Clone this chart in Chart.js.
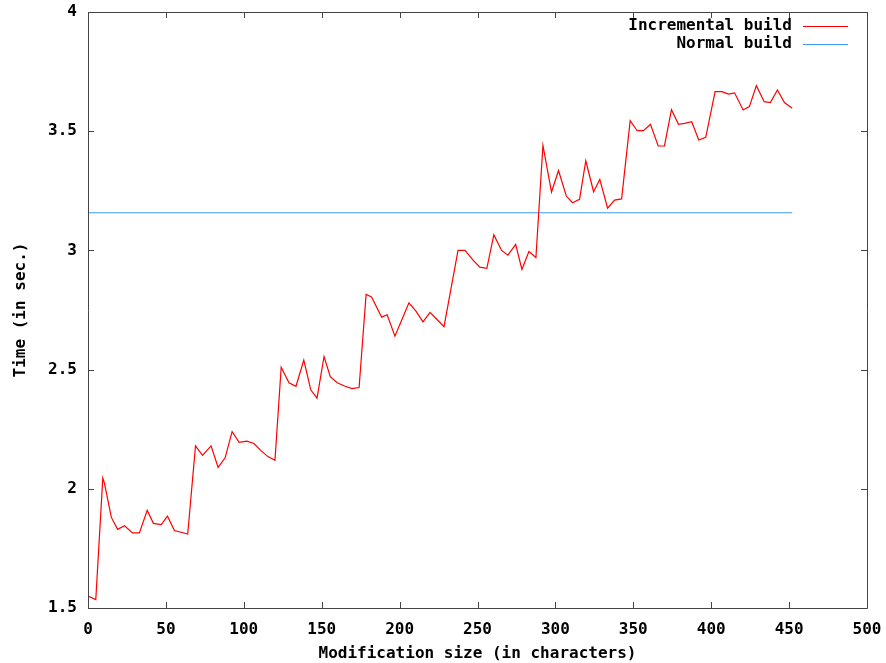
<!DOCTYPE html>
<html>
<head>
<meta charset="utf-8">
<script src="https://cdn.jsdelivr.net/npm/chart.js@4.4.0/dist/chart.umd.min.js"></script>
<style>
  html, body { margin: 0; padding: 0; background: #fff; }
  canvas { display: block; }
</style>
</head>
<body>
<canvas id="chart" width="886" height="663"></canvas>
<script>
// modification size (characters) for each incremental build run
var sizes = [0, 5, 9.5, 10.5, 15, 19, 23.5, 28.5, 33, 38, 42, 47, 51, 55.5, 64, 69, 73.5, 79, 83.5, 88,
    92.5, 97, 102, 106.5, 111, 115.5, 120, 124, 129, 133.5, 138.5, 143, 147, 151.5, 155.5, 160, 165, 169.5, 174, 178.5,
    182, 188.5, 192, 197, 201.5, 206, 210.5, 215, 219.5, 224, 228.5, 233, 237.5, 242, 247, 251.5, 256, 260.5, 265.5, 269.5,
    274.5, 278.5, 283, 287.5, 292, 297.5, 302, 307, 311, 315.5, 319.5, 324.5, 328.5, 333.5, 338, 342.5, 348, 352.5, 356.5, 361,
    366, 370, 374.5, 379, 383, 387.5, 392, 396.5, 402.5, 407, 411, 415, 420.5, 424.5, 429, 434, 438, 442.5, 447, 452];
// time (sec.) of the incremental build
var incrementalTimes = [1.55, 1.535, 2.045, 2.025, 1.88, 1.83, 1.845, 1.815, 1.815, 1.91, 1.855, 1.85, 1.885, 1.825, 1.81, 2.18, 2.14, 2.18, 2.09, 2.13,
    2.24, 2.195, 2.2, 2.19, 2.16, 2.135, 2.12, 2.51, 2.445, 2.43, 2.54, 2.415, 2.38, 2.555, 2.47, 2.445, 2.43, 2.42, 2.425, 2.815,
    2.805, 2.72, 2.73, 2.64, 2.71, 2.78, 2.745, 2.7, 2.74, 2.71, 2.68, 2.84, 3.0, 3.0, 2.96, 2.93, 2.925, 3.065, 3.0, 2.98,
    3.025, 2.92, 2.995, 2.97, 3.44, 3.245, 3.335, 3.228, 3.2, 3.214, 3.376, 3.246, 3.298, 3.177, 3.211, 3.216, 3.544, 3.502, 3.502, 3.529,
    3.438, 3.438, 3.59, 3.529, 3.533, 3.54, 3.463, 3.474, 3.666, 3.666, 3.656, 3.661, 3.589, 3.603, 3.691, 3.624, 3.62, 3.673, 3.62, 3.596];
// normal build is constant over the whole range
var normalSizes = [0, 452];
var normalTimes = [3.158, 3.158];

var seriesLabels = ['Incremental build', 'Normal build'];
var seriesColors = ['#ff0000', '#3c9cf0'];

var monoFont = { family: '"DejaVu Sans Mono", monospace', size: 16, weight: 'bold' };

function toPoints(xs, ys) {
    return xs.map(function (x, i) { return { x: x, y: ys[i] }; });
}

// gnuplot style frame: border on all sides, ticks pointing inwards, mirrored
var framePlugin = {
    id: 'frame',
    afterDraw: function (chart) {
        var ctx = chart.ctx, a = chart.chartArea;
        var xs = chart.scales.x, ys = chart.scales.y;
        ctx.save();
        ctx.strokeStyle = '#444';
        ctx.lineWidth = 1;
        ctx.beginPath();
        ctx.rect(Math.round(a.left) + 0.5, Math.round(a.top) + 0.5,
            Math.round(a.right - a.left), Math.round(a.bottom - a.top));
        xs.ticks.forEach(function (t) {
            var px = Math.round(xs.getPixelForValue(t.value)) + 0.5;
            ctx.moveTo(px, a.bottom); ctx.lineTo(px, a.bottom - 6);
            ctx.moveTo(px, a.top); ctx.lineTo(px, a.top + 6);
        });
        ys.ticks.forEach(function (t) {
            var py = Math.round(ys.getPixelForValue(t.value)) + 0.5;
            ctx.moveTo(a.left, py); ctx.lineTo(a.left + 6, py);
            ctx.moveTo(a.right, py); ctx.lineTo(a.right - 6, py);
        });
        ctx.stroke();

        // key in the top right corner, text left of the line sample
        ctx.font = 'bold 16px "DejaVu Sans Mono", monospace';
        ctx.textAlign = 'right';
        ctx.textBaseline = 'middle';
        chart.data.datasets.forEach(function (ds, i) {
            var y = 26 + i * 18;
            ctx.fillStyle = '#000';
            ctx.fillText(ds.label, 792, y);
            ctx.strokeStyle = ds.borderColor;
            ctx.beginPath();
            ctx.moveTo(803, y + 0.5);
            ctx.lineTo(848, y + 0.5);
            ctx.stroke();
        });
        ctx.restore();
    }
};

new Chart(document.getElementById('chart').getContext('2d'), {
    type: 'line',
    data: {
        datasets: [{
            label: seriesLabels[0],
            data: toPoints(sizes, incrementalTimes),
            borderColor: seriesColors[0],
            borderWidth: 1.2,
            pointRadius: 0,
            tension: 0
        }, {
            label: seriesLabels[1],
            data: toPoints(normalSizes, normalTimes),
            borderColor: seriesColors[1],
            borderWidth: 1.2,
            pointRadius: 0,
            tension: 0
        }]
    },
    options: {
        responsive: false,
        animation: false,
        layout: { padding: { top: 12, right: 19, left: 0, bottom: 0 } },
        plugins: {
            legend: { display: false },
            tooltip: { enabled: false }
        },
        scales: {
            x: {
                type: 'linear',
                min: 0,
                max: 500,
                grid: { display: false, drawTicks: false },
                border: { display: false },
                ticks: { stepSize: 50, color: '#000', font: monoFont, padding: 12, maxRotation: 0 },
                title: { display: true, text: 'Modification size (in characters)', color: '#000', font: monoFont, padding: { top: 6, bottom: 0 } },
                afterFit: function (scale) {
                    scale.height = 55;
                    scale.paddingLeft = 0;
                    scale.paddingRight = 0;
                }
            },
            y: {
                min: 1.5,
                max: 4,
                grid: { display: false, drawTicks: false },
                border: { display: false },
                ticks: {
                    stepSize: 0.5, color: '#000', font: monoFont, padding: 11,
                    callback: function (v) { return String(v); }
                },
                title: { display: true, text: 'Time (in sec.)', color: '#000', font: monoFont, padding: { top: 11, bottom: 0 } },
                afterFit: function (scale) {
                    scale.width = 88;
                    scale.paddingTop = 0;
                    scale.paddingBottom = 0;
                }
            }
        }
    },
    plugins: [framePlugin]
});
</script>
</body>
</html>
